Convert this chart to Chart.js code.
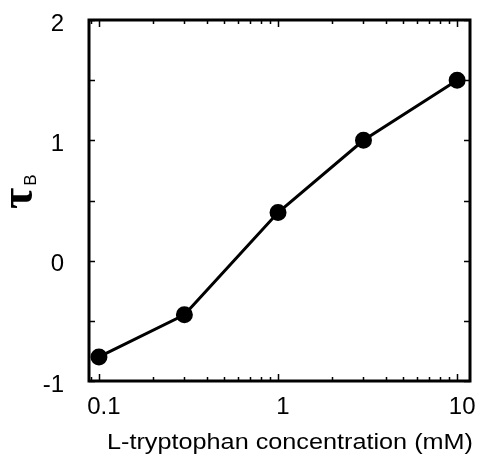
<!DOCTYPE html>
<html>
<head>
<meta charset="utf-8">
<script src="https://cdn.jsdelivr.net/npm/chart.js@4/dist/chart.umd.min.js"></script>
<style>
  html, body { margin: 0; padding: 0; background: #fff; }
  #wrap { width: 480px; height: 458px; position: relative; }
</style>
</head>
<body>
<div id="wrap"><canvas id="c" width="480" height="458"></canvas></div>
<script>
// ---- data ----
const concentrations = [0.1, 0.3, 1, 3, 10];       // L-tryptophan (mM)
const tauB = [-0.80, -0.45, 0.40, 1.00, 1.50];      // tau_B
const xTickLabels = [0.1, 1, 10];
const yTickLabels = [-1, 0, 1, 2];
const yMinorStep = 0.5;
const xTitle = 'L-tryptophan concentration (mM)';
const yTitleMain = 'τ';
const yTitleSub = 'B';

const points = concentrations.map((c, i) => ({ x: c, y: tauB[i] }));

const framePlugin = {
  id: 'frameTicks',
  afterDraw(chart) {
    const { ctx, chartArea: a, scales } = chart;
    const xs = scales.x, ys = scales.y;
    ctx.save();
    ctx.strokeStyle = '#000';
    ctx.lineWidth = 1.5;
    for (let v = ys.min; v <= ys.max + 1e-9; v += yMinorStep) {
      const py = Math.round(ys.getPixelForValue(v)) + 0.5;
      ctx.beginPath();
      ctx.moveTo(a.left, py); ctx.lineTo(a.left + 6, py);
      ctx.moveTo(a.right, py); ctx.lineTo(a.right - 6, py);
      ctx.stroke();
    }
    for (let k = -2; k <= 1; k++) {
      for (let m = 1; m <= 9; m++) {
        const v = m * Math.pow(10, k);
        if (v < xs.min || v > xs.max) continue;
        const px = Math.round(xs.getPixelForValue(v)) + 0.5;
        const len = m === 1 ? 7 : 4;
        ctx.beginPath();
        ctx.moveTo(px, a.bottom); ctx.lineTo(px, a.bottom - len);
        ctx.moveTo(px, a.top); ctx.lineTo(px, a.top + len);
        ctx.stroke();
      }
    }
    ctx.lineWidth = 3;
    ctx.strokeRect(a.left, a.top, a.right - a.left, a.bottom - a.top);

    // y title: tau with subscript B, rotated
    ctx.fillStyle = '#000';
    ctx.translate(32, 209);
    ctx.rotate(-Math.PI / 2);
    ctx.textBaseline = 'alphabetic';
    ctx.textAlign = 'left';
    ctx.font = 'bold 46px "Liberation Serif"';
    ctx.fillText(yTitleMain, 0, 0);
    const w = ctx.measureText(yTitleMain).width;
    ctx.font = '17px "Liberation Sans"';
    ctx.fillText(yTitleSub, w + 2, 4);
    ctx.restore();

    // x title, slightly widened like the reference
    ctx.save();
    ctx.fillStyle = '#000';
    ctx.font = '22px "Liberation Sans"';
    ctx.textBaseline = 'alphabetic';
    ctx.textAlign = 'left';
    const tw = ctx.measureText(xTitle).width;
    const target = 366;
    ctx.translate(107, 449);
    ctx.scale(target / tw, 1);
    ctx.fillText(xTitle, 0, 0);
    ctx.restore();
  }
};

new Chart(document.getElementById('c'), {
  type: 'line',
  data: {
    datasets: [{
      data: points,
      borderColor: '#000',
      backgroundColor: '#000',
      borderWidth: 3,
      pointRadius: 7,
      pointHoverRadius: 7,
      pointBackgroundColor: '#000',
      pointBorderColor: '#000',
      tension: 0
    }]
  },
  options: {
    responsive: false,
    animation: false,
    layout: { padding: { top: 20, right: 7, left: 0, bottom: 0 } },
    plugins: { legend: { display: false }, tooltip: { enabled: false } },
    scales: {
      x: {
        type: 'logarithmic',
        min: 0.088,
        max: 11.8,
        grid: { display: false },
        border: { display: false },
        afterBuildTicks: s => { s.ticks = xTickLabels.map(v => ({ value: v })); },
        afterFit: s => { s.height = 77; s.paddingLeft = 0; s.paddingRight = 0; },
        ticks: {
          color: '#000',
          font: { family: 'Liberation Sans', size: 24 },
          padding: 4,
          labelOffset: 5,
          maxRotation: 0,
          autoSkip: false,
          callback: v => String(v)
        }
      },
      y: {
        min: -1,
        max: 2,
        grid: { display: false },
        border: { display: false },
        afterBuildTicks: s => { s.ticks = yTickLabels.map(v => ({ value: v })); },
        afterFit: s => { s.width = 89; s.paddingTop = 0; s.paddingBottom = 0; },
        ticks: {
          color: '#000',
          font: { family: 'Liberation Sans', size: 24 },
          padding: 17,
          labelOffset: 4,
          callback: v => String(v)
        }
      }
    }
  },
  plugins: [framePlugin]
});
</script>
</body>
</html>
